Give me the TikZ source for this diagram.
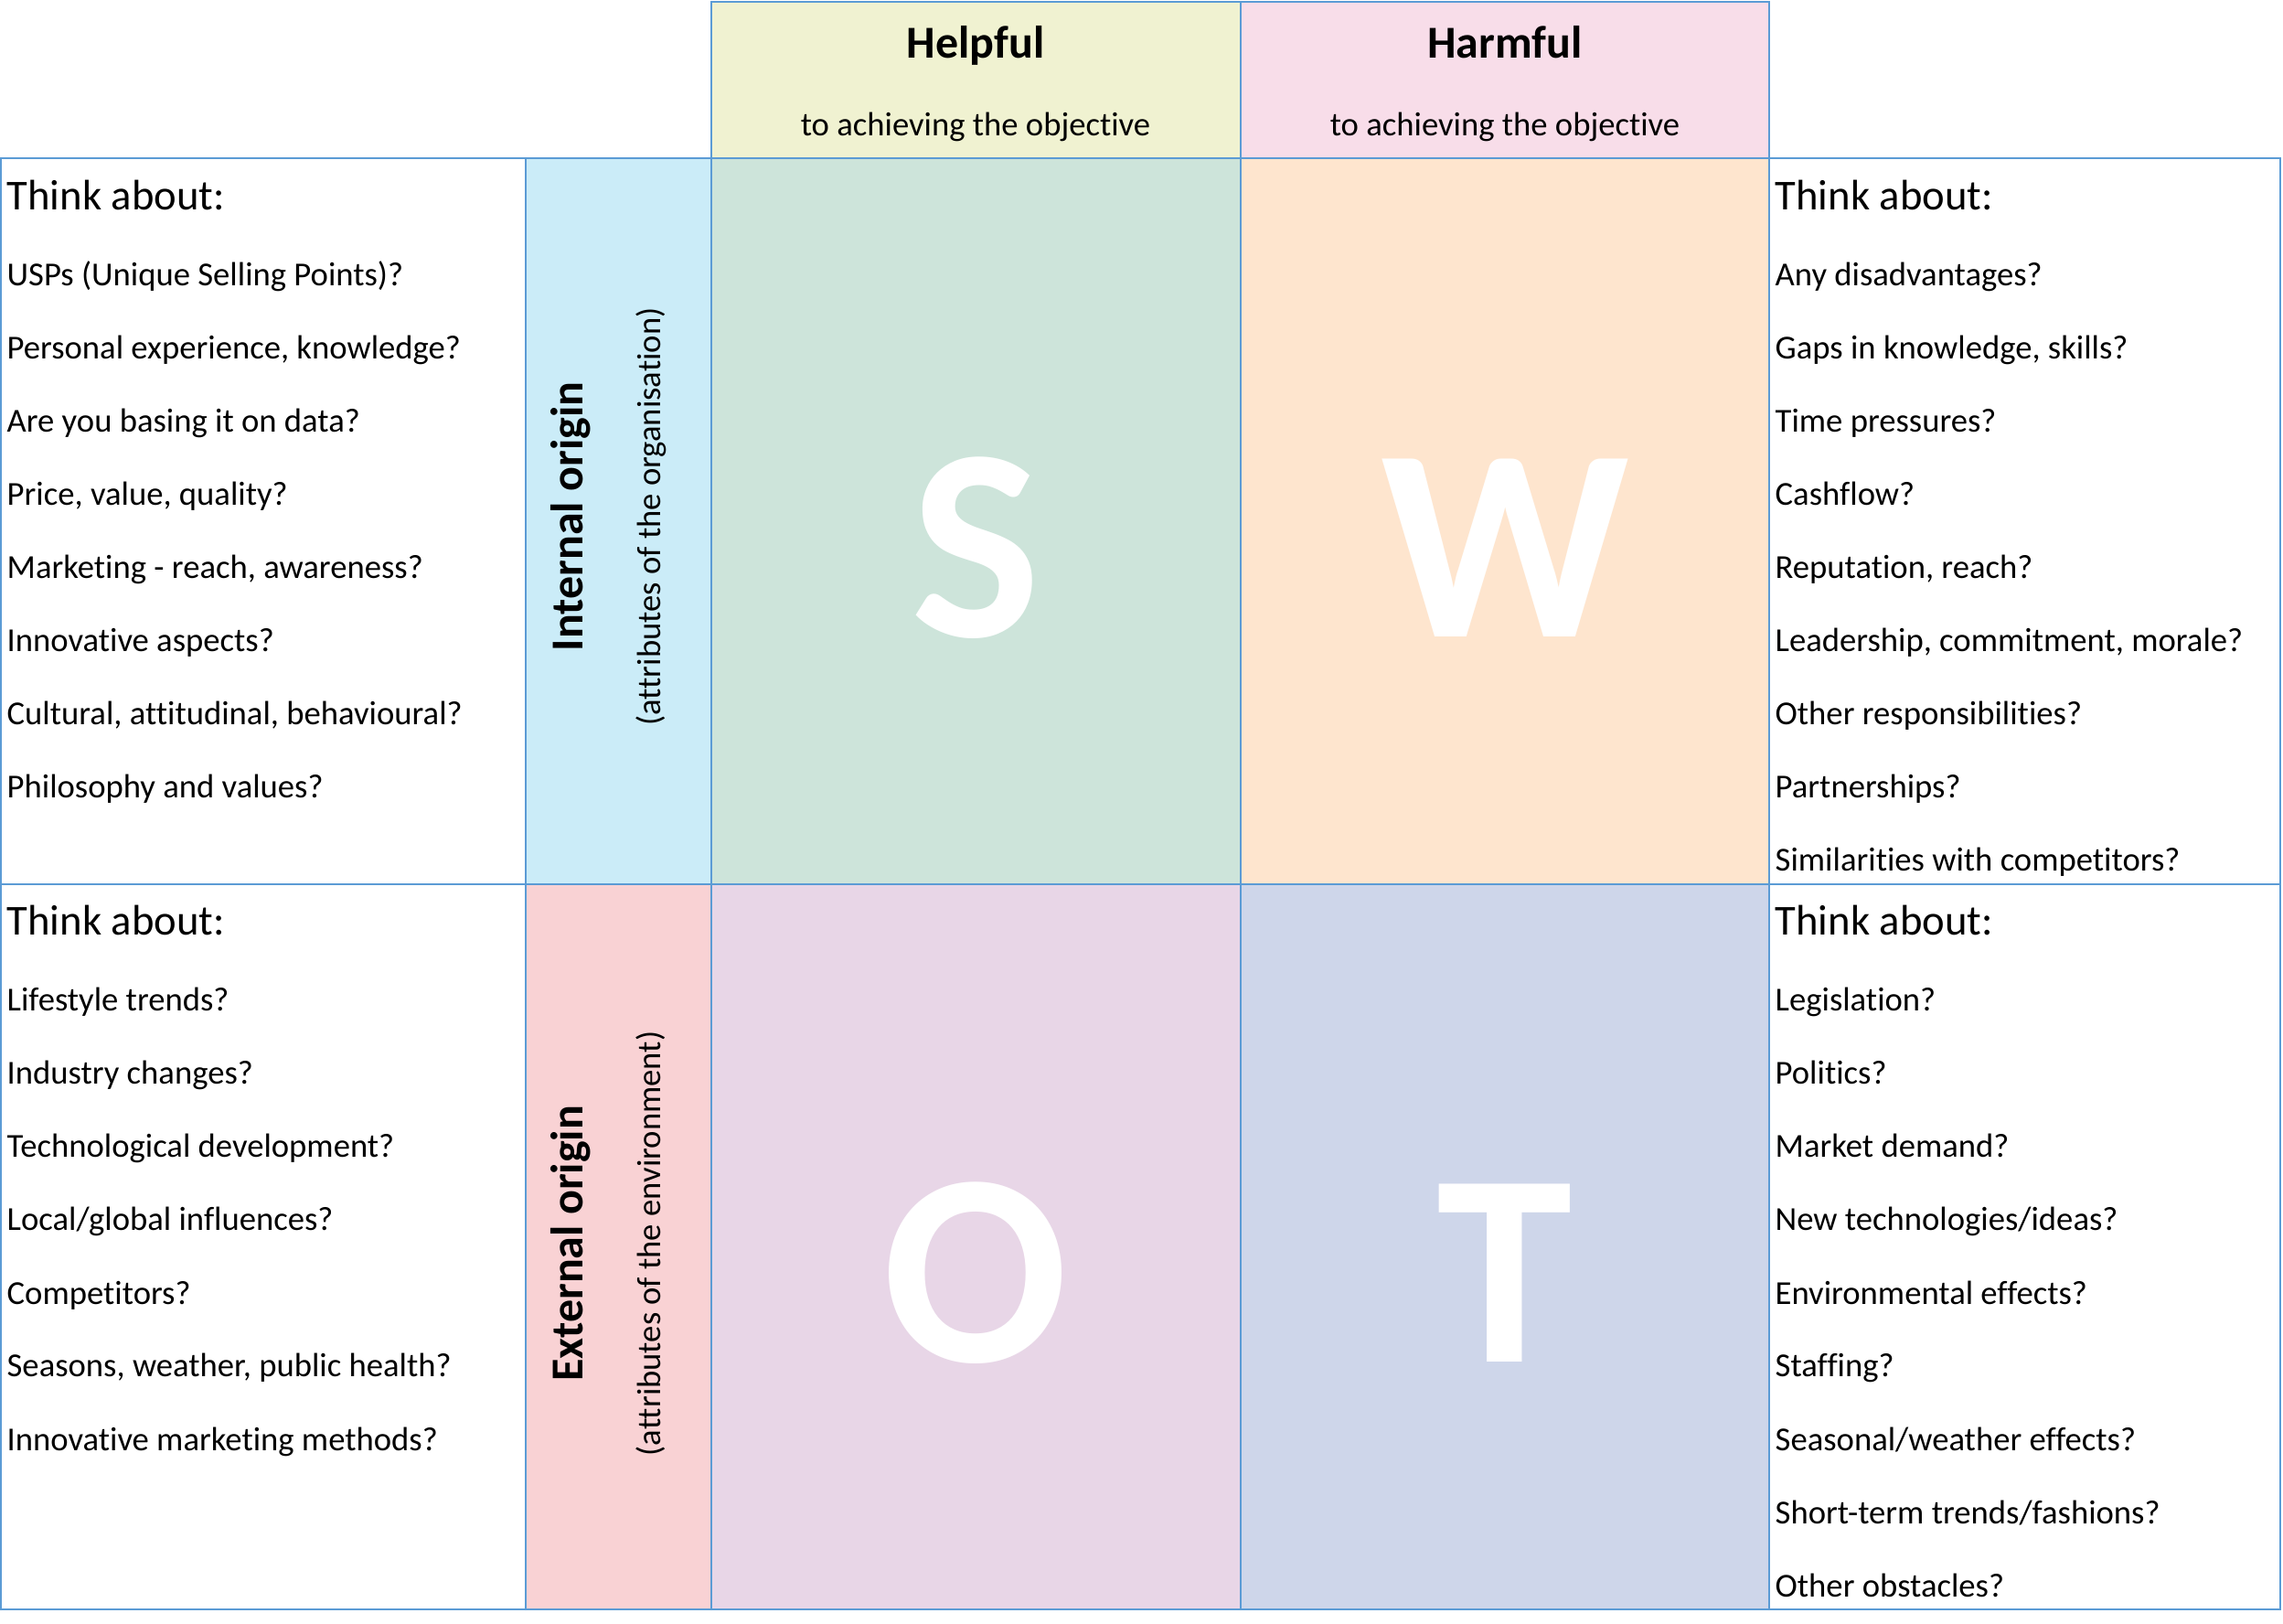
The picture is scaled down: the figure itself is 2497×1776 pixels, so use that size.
\documentclass[tikz,border=0pt]{standalone}
\usepackage{fontspec}
\setmainfont{Carlito}[Ligatures={NoCommon}]
\definecolor{gridblue}{HTML}{5B9BD5}
\definecolor{helpcol}{HTML}{F0F2D1}
\definecolor{harmcol}{HTML}{F8DDE9}
\definecolor{intcol}{HTML}{CBECF8}
\definecolor{extcol}{HTML}{F9D2D4}
\definecolor{scol}{HTML}{CDE4DA}
\definecolor{wcol}{HTML}{FEE5CE}
\definecolor{ocol}{HTML}{E8D6E7}
\definecolor{tcol}{HTML}{CED6EA}

\begin{document}
\begin{tikzpicture}
[x=0.3pt,y=-0.3pt,
cell/.style={draw=gridblue,line width=0.6pt},
think/.style={anchor=base west,inner sep=0pt,font=\fontsize{14}{16}\selectfont},
item/.style={anchor=base west,inner sep=0pt,font=\fontsize{11}{13}\selectfont},
head/.style={anchor=base,inner sep=0pt,font=\bfseries\fontsize{15}{18}\selectfont},
sub/.style={anchor=base,inner sep=0pt,font=\fontsize{11}{13}\selectfont},
big/.style={anchor=base,inner sep=0pt,text=white,font=\bfseries\fontsize{90}{94}\selectfont}]
\fill[white] (0,0) rectangle (2497,1776);
\useasboundingbox (0,0) rectangle (2497,1776);
% header row
\draw[cell,fill=helpcol] (778,2) rectangle (1357,173);
\draw[cell,fill=harmcol] (1357,2) rectangle (1935,173);
\node[head] (helpful) at (1067,64) {Helpful};
\node[sub] (helpsub) at (1067,149) {to achieving the objective};
\node[head] (harmful) at (1646,64) {Harmful};
\node[sub] (harmsub) at (1646,149) {to achieving the objective};
% internal row
\draw[cell] (1,173) rectangle (575,967);
\draw[cell,fill=intcol] (575,173) rectangle (778,967);
\draw[cell,fill=scol] (778,173) rectangle (1357,967);
\draw[cell,fill=wcol] (1357,173) rectangle (1935,967);
\draw[cell] (1935,173) rectangle (2494,967);
% external row
\draw[cell] (1,967) rectangle (575,1760);
\draw[cell,fill=extcol] (575,967) rectangle (778,1760);
\draw[cell,fill=ocol] (778,967) rectangle (1357,1760);
\draw[cell,fill=tcol] (1357,967) rectangle (1935,1760);
\draw[cell] (1935,967) rectangle (2494,1760);
% side labels
\node[head,rotate=90] (internal) at (637,565) {Internal origin};
\node[sub,rotate=90] (intsub) at (722,565) {(attributes of the organisation)};
\node[head,rotate=90] (external) at (637,1360) {External origin};
\node[sub,rotate=90] (extsub) at (722,1360) {(attributes of the environment)};
% big letters
\node[big] (S) at (1067,697) {S};
\node[big] (W) at (1646,697) {W};
\node[big] (O) at (1067,1490) {O};
\node[big] (T) at (1646,1490) {T};
% think about lists
\node[think] (sthink) at (7,230) {Think about:};
\node[think] (wthink) at (1941,230) {Think about:};
\node[think] (othink) at (7,1023) {Think about:};
\node[think] (tthink) at (1941,1023) {Think about:};
\foreach \t [count=\i] in {{USPs (Unique Selling Points)?},{Personal experience, knowledge?},
  {Are you basing it on data?},{Price, value, quality?},{Marketing - reach, awareness?},
  {Innovative aspects?},{Cultural, attitudinal, behavioural?},{Philosophy and values?}}
  \node[item] (sitem\i) at (7,{233+80*\i}) {\t};
\foreach \t [count=\i] in {{Any disadvantages?},{Gaps in knowledge, skills?},{Time pressures?},
  {Cashflow?},{Reputation, reach?},{Leadership, commitment, morale?},{Other responsibilities?},
  {Partnerships?},{Similarities with competitors?}}
  \node[item] (witem\i) at (1941,{233+80*\i}) {\t};
\foreach \t [count=\i] in {{Lifestyle trends?},{Industry changes?},{Technological development?},
  {Local/global influences?},{Competitors?},{Seasons, weather, public health?},
  {Innovative marketing methods?}}
  \node[item] (oitem\i) at (7,{1026+80*\i}) {\t};
\foreach \t [count=\i] in {{Legislation?},{Politics?},{Market demand?},{New technologies/ideas?},
  {Environmental effects?},{Staffing?},{Seasonal/weather effects?},{Short-term trends/fashions?},
  {Other obstacles?}}
  \node[item] (titem\i) at (1941,{1026+80*\i}) {\t};
\end{tikzpicture}
\end{document}
